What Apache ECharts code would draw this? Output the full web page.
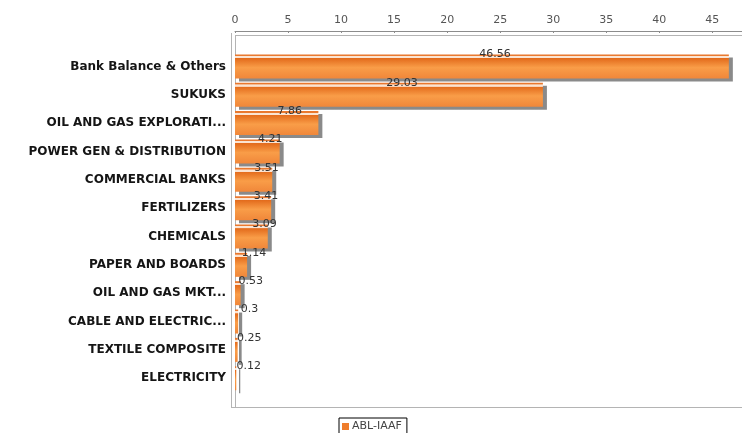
<!DOCTYPE html>
<html>
<head>
<meta charset="utf-8">
<title>ABL-IAAF</title>
<style>
  html, body { margin: 0; padding: 0; background: #ffffff; }
  #chart { width: 742px; height: 433px; }
</style>
<script src="https://cdn.jsdelivr.net/npm/echarts@6/dist/echarts.min.js"></script>
</head>
<body>
<div id="chart"></div>
<script>
// Sector allocation, top to bottom
const categories = [
  'Bank Balance & Others',
  'SUKUKS',
  'OIL AND GAS EXPLORATI...',
  'POWER GEN & DISTRIBUTION',
  'COMMERCIAL BANKS',
  'FERTILIZERS',
  'CHEMICALS',
  'PAPER AND BOARDS',
  'OIL AND GAS MKT...',
  'CABLE AND ELECTRIC...',
  'TEXTILE COMPOSITE',
  'ELECTRICITY'
];
const values = [46.56, 29.03, 7.86, 4.21, 3.51, 3.41, 3.09, 1.14, 0.53, 0.3, 0.25, 0.12];
const seriesName = 'ABL-IAAF';
const xTicks = [0, 5, 10, 15, 20, 25, 30, 35, 40, 45];

const FONT = 'DejaVu Sans';
const chart = echarts.init(document.getElementById('chart'), null, { renderer: 'canvas' });

// Bar face: thin top edge, light gap, then the shaded body
const barFill = new echarts.graphic.LinearGradient(0, 0, 0, 1, [
  { offset: 0.00, color: '#e8762c' },
  { offset: 0.065, color: '#ea7a31' },
  { offset: 0.08, color: '#fbe4d2' },
  { offset: 0.155, color: '#fbe4d2' },
  { offset: 0.17, color: '#e36b1c' },
  { offset: 0.55, color: '#f99d48' },
  { offset: 1.00, color: '#f0873a' }
]);

const frameColor = '#b4b4b4';

chart.setOption({
  animation: false,
  backgroundColor: '#ffffff',
  textStyle: { fontFamily: FONT },
  grid: { left: 235, right: 0, top: 52.2, bottom: 40.6, containLabel: false },
  xAxis: {
    type: 'value',
    position: 'top',
    offset: 21.2,
    min: 0,
    max: 47.8,
    interval: 5,
    axisLine: { show: true, lineStyle: { color: '#8c8c8c', width: 1 } },
    axisTick: { show: true, inside: true, length: 2, lineStyle: { color: '#8c8c8c' } },
    axisLabel: {
      color: '#555555', fontSize: 11, fontFamily: FONT, margin: 5,
      showMaxLabel: false,
      formatter: v => (xTicks.indexOf(v) >= 0 ? String(v) : '')
    },
    splitLine: { show: false }
  },
  yAxis: {
    type: 'category',
    inverse: true,
    data: categories,
    axisLine: { show: false },
    axisTick: { show: false },
    axisLabel: { color: '#151515', fontSize: 12, fontWeight: 'bold', fontFamily: FONT, margin: 9 }
  },
  legend: {
    left: 339,
    top: 418,
    data: [seriesName],
    borderColor: '#000000',
    borderWidth: 1,
    borderRadius: 0,
    padding: [3, 5, 3, 3],
    itemWidth: 7,
    itemHeight: 7,
    icon: 'rect',
    itemStyle: { color: '#ef7d2c', shadowBlur: 0, shadowOffsetX: 0, shadowOffsetY: 0, shadowColor: 'transparent' },
    textStyle: { color: '#444444', fontSize: 11, fontFamily: FONT, padding: [0, 0, 0, -2] }
  },
  graphic: [
    { type: 'line', silent: true, z: 1, shape: { x1: 231.5, y1: 33, x2: 231.5, y2: 408 }, style: { stroke: frameColor, lineWidth: 1 } },
    { type: 'line', silent: true, z: 1, shape: { x1: 235.5, y1: 35, x2: 235.5, y2: 408 }, style: { stroke: frameColor, lineWidth: 1 } },
    { type: 'line', silent: true, z: 1, shape: { x1: 235.5, y1: 35.5, x2: 742, y2: 35.5 }, style: { stroke: frameColor, lineWidth: 1 } },
    { type: 'line', silent: true, z: 1, shape: { x1: 231.5, y1: 407.5, x2: 742, y2: 407.5 }, style: { stroke: frameColor, lineWidth: 1 } }
  ],
  series: [{
    name: seriesName,
    type: 'bar',
    data: values,
    barWidth: 24,
    z: 3,
    itemStyle: {
      color: barFill,
      shadowColor: '#8a8a8a',
      shadowBlur: 0,
      shadowOffsetX: 4,
      shadowOffsetY: 3
    },
    label: {
      show: true,
      position: ['50%', 0],
      align: 'center',
      verticalAlign: 'middle',
      offset: [13, 0],
      color: '#333333',
      fontSize: 11,
      fontFamily: FONT,
      formatter: p => String(p.value)
    }
  }]
});
</script>
</body>
</html>
